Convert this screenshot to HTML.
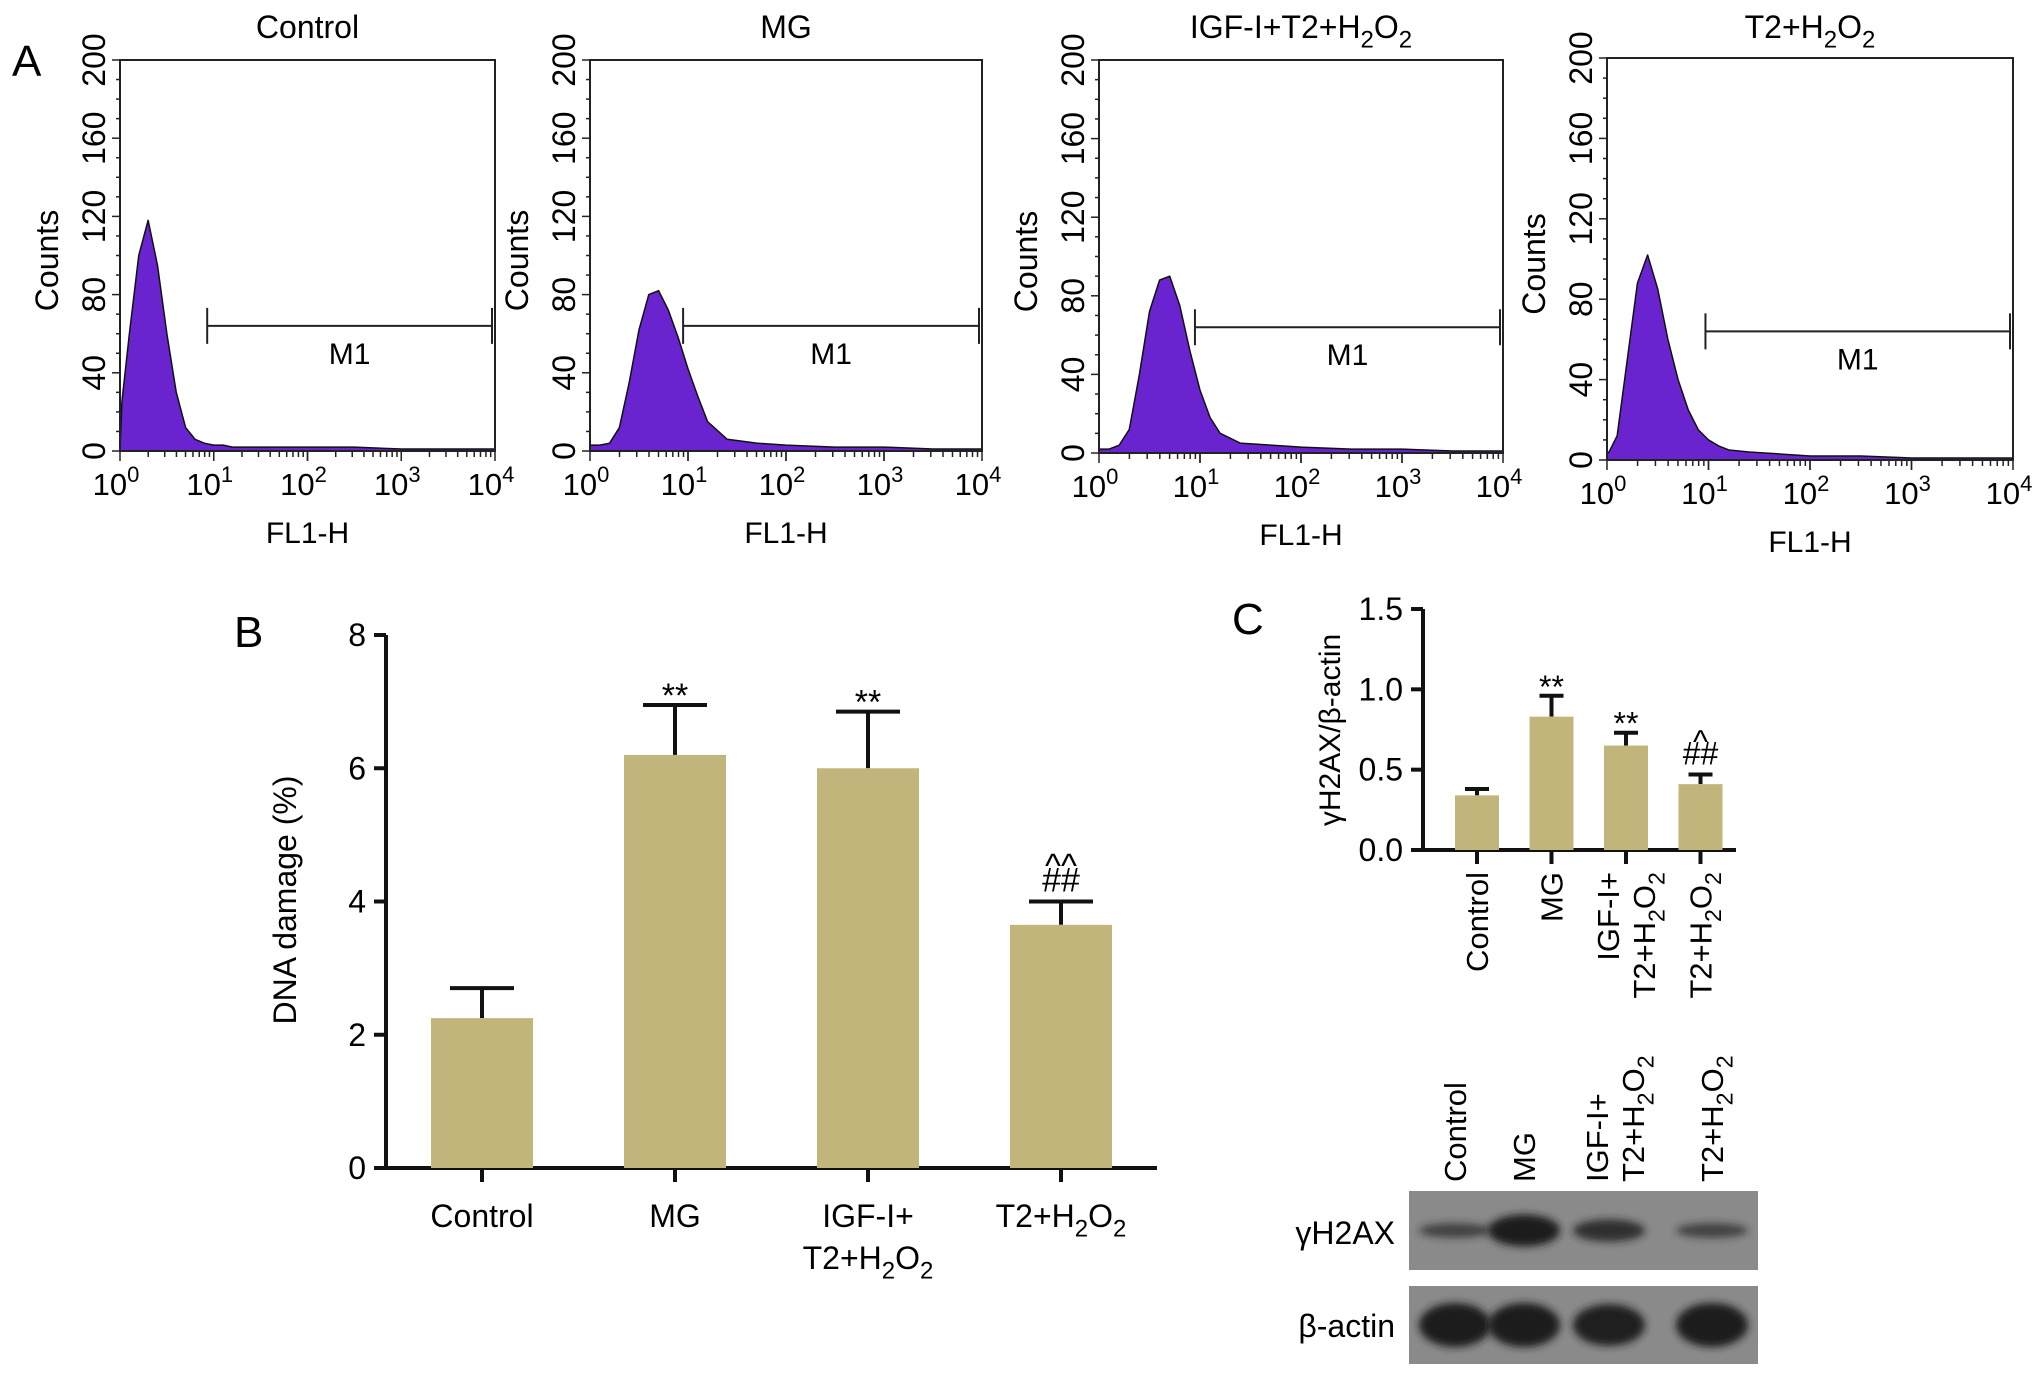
<!DOCTYPE html>
<html><head><meta charset="utf-8"><style>
body{margin:0;background:#fff}
svg{display:block;font-family:"Liberation Sans",Arial,sans-serif}
</style></head><body>
<svg id="fig" width="2032" height="1379" viewBox="0 0 2032 1379" xmlns="http://www.w3.org/2000/svg">
<defs>
<filter id="blur" x="-30%" y="-80%" width="160%" height="260%"><feGaussianBlur stdDeviation="4"/></filter>
</defs>
<g id="A"></g><g id="B"></g><g id="C"></g>
</svg>
<script>
// ---------- Panel A data ----------
const histLog = [0,0.02,0.1,0.2,0.3,0.4,0.5,0.6,0.7,0.8,0.9,1.0,1.1,1.2,1.4,1.7,2,2.5,3,3.5,4];
const histControl = [0,25,60,100,118,95,60,30,12,6,4,3,3,2,2,2,2,2,1,1,1];
const histMG      = [3,3,3,4,12,35,62,80,82,72,58,42,28,15,6,4,3,2,2,1,1];
const histIGF     = [2,2,2,4,12,40,72,88,90,75,52,32,18,10,5,4,3,2,2,1,1];
const histT2      = [3,4,12,50,88,102,85,60,40,25,15,10,7,5,4,3,2,2,1,1,1];
const histTitles = ["Control","MG","IGF-I+T2+H2O2","T2+H2O2"];
const histSeries = [histControl,histMG,histIGF,histT2];
const countTicks = [0,40,80,120,160,200];
const logTicks = [0,1,2,3,4];
const m1Start = [0.93,0.95,0.95,0.97];

// ---------- Panel B data ----------
const bCats = ["Control","MG","IGF-I+\nT2+H2O2","T2+H2O2"];
const bVals = [2.25,6.2,6.0,3.65];
const bErr  = [0.45,0.75,0.85,0.35];
const bTicks = [0,2,4,6,8];
const bMarks = [[],["**"],["**"],["##","^^"]];

// ---------- Panel C data ----------
const cCats = ["Control","MG","IGF-I+\nT2+H2O2","T2+H2O2"];
const cVals = [0.34,0.83,0.65,0.41];
const cErr  = [0.04,0.13,0.08,0.06];
const cTicks = [0.0,0.5,1.0,1.5];
const cMarks = [[],["**"],["**"],["##","^"]];
const blotH2AX = [0.45,1.0,0.7,0.45];
const blotActin = [1,1,0.95,1];

const NS="http://www.w3.org/2000/svg";
function mk(tag,attrs,parent){const e=document.createElementNS(NS,tag);for(const k in attrs)e.setAttribute(k,attrs[k]);parent.appendChild(e);return e;}
function chem(el,s,sz){
  const parts=s.split(/(H2O2)/);
  parts.forEach(p=>{
    if(p==="H2O2"){
      mk('tspan',{},el).textContent="H";
      let t=mk('tspan',{dy:sz*0.3,'font-size':sz*0.75},el);t.textContent="2";
      t=mk('tspan',{dy:-sz*0.3},el);t.textContent="O";
      t=mk('tspan',{dy:sz*0.3,'font-size':sz*0.75},el);t.textContent="2";
      t=mk('tspan',{dy:-sz*0.3},el);t.textContent="\u200b";
    } else if(p){mk('tspan',{},el).textContent=p;}
  });
}

// ---------- Panel A ----------
const A=document.getElementById('A');
let lab=mk('text',{x:12,y:76,'font-size':44},A);lab.textContent="A";


const frames=[{l:120,r:495,t:60,b:451},{l:590,r:982,t:60,b:451},{l:1099,r:1503,t:60,b:453},{l:1607,r:2013,t:58,b:460}];
frames.forEach((f,i)=>{
  const g=mk('g',{},A);
  
  
  const xs=v=>f.l+(f.r-f.l)*v/4;
  const ys=v=>f.b-(f.b-f.t)*v/200;
  const cx=(f.l+f.r)/2;
  const tt=mk('text',{x:cx,y:38,'font-size':32,'text-anchor':'middle'},g);chem(tt,histTitles[i],32);
  
  
  let pts=[[xs(0),ys(0)]];
  histLog.forEach((lx,j)=>pts.push([xs(lx),ys(histSeries[i][j])]));
  pts.push([xs(4),ys(0)]);
  const poly=mk('polygon',{points:pts.map(p=>p.join(',')).join(' '),fill:'#6a24cf',stroke:'#111','stroke-width':1.5,'stroke-linejoin':'round'},g);
  
  
  mk('rect',{x:f.l,y:f.t,width:f.r-f.l,height:f.b-f.t,fill:'none',stroke:'#222','stroke-width':2},g);
  for(let v=0;v<=200;v+=10){const y=ys(v);mk('line',{x1:f.l-(v%40===0?8:4),x2:f.l,y1:y,y2:y,stroke:'#222','stroke-width':1.5},g);}
  countTicks.forEach(v=>{const y=ys(v);const t=mk('text',{x:0,y:0,'font-size':32,'text-anchor':'middle',transform:`translate(${f.l-15},${y}) rotate(-90)`},g);t.textContent=v;});
  const yl=mk('text',{x:0,y:0,'font-size':32,'text-anchor':'middle',transform:`translate(${f.l-62},${(f.t+f.b)/2+5}) rotate(-90)`},g);yl.textContent="Counts";
  
  
  for(let d=0;d<4;d++)for(let k=1;k<=10;k++){const x=xs(d+Math.log10(k));mk('line',{x1:x,x2:x,y1:f.b,y2:f.b+(k===1||k===10?10:6),stroke:'#222','stroke-width':1.5},g);}
  logTicks.forEach(d=>{const t=mk('text',{x:xs(d)-4,y:f.b+44,'font-size':31,'text-anchor':'middle'},g);mk('tspan',{},t).textContent="10";const s=mk('tspan',{dy:-13,'font-size':22},t);s.textContent=d;});
  const xl=mk('text',{x:cx,y:f.b+92,'font-size':30,'text-anchor':'middle'},g);xl.textContent="FL1-H";
  
  
  const my=f.t+(f.b-f.t)*0.68,x1=xs(m1Start[i]),x2=f.r-3;
  const m=mk('g',{},g);
  
  
  mk('line',{x1:x1,x2:x2,y1:my,y2:my,stroke:'#222','stroke-width':2},m);
  mk('line',{x1:x1,x2:x1,y1:my-18,y2:my+18,stroke:'#222','stroke-width':2},m);
  mk('line',{x1:x2,x2:x2,y1:my-18,y2:my+18,stroke:'#222','stroke-width':2},m);
  mk('text',{x:(x1+x2)/2,y:my+38,'font-size':30,'text-anchor':'middle'},m).textContent="M1";
});

function barChart(G,o){
  const ys=v=>o.y0-(o.y0-o.y1)*(v-o.min)/(o.max-o.min);
  mk('line',{x1:o.ax,x2:o.ax,y1:o.y1,y2:o.y0,stroke:'#111','stroke-width':o.lw},G);
  mk('line',{x1:o.ax-o.ext,x2:o.xr,y1:o.y0,y2:o.y0,stroke:'#111','stroke-width':o.lw},G);
  o.ticks.forEach(v=>{const y=ys(v);mk('line',{x1:o.ax-12,x2:o.ax,y1:y,y2:y,stroke:'#111','stroke-width':o.lw},G);
    mk('text',{x:o.ax-20,y:y+11,'font-size':32,'text-anchor':'end'},G).textContent=o.fmt(v);});
  o.vals.forEach((v,i)=>{
    const cx=o.cx0+i*o.step;
    const top=ys(v+o.err[i]);
    mk('line',{x1:cx,x2:cx,y1:ys(v),y2:top,stroke:'#111','stroke-width':o.lw},G);
    mk('line',{x1:cx-o.cap,x2:cx+o.cap,y1:top,y2:top,stroke:'#111','stroke-width':o.lw},G);
    const r=mk('rect',{x:cx-o.bw/2,y:ys(v),width:o.bw,height:o.y0-ys(v),fill:'#c2b57c'},G);
    
    
    mk('line',{x1:cx,x2:cx,y1:o.y0,y2:o.y0+14,stroke:'#111','stroke-width':o.lw},G);
    o.marks[i].forEach((m,k)=>{
      const t=mk('text',{x:cx,y:top-10-k*o.markGap+(m[0]==='^'?16:0)+(m==='**'?12:0),'font-size':o.markSize,'text-anchor':'middle'},G);t.textContent=m;
      
      
    });
  });
  return ys;
}

// ---------- Panel B ----------
const B=document.getElementById('B');
lab=mk('text',{x:234,y:647,'font-size':44},B);lab.textContent="B";


barChart(B,{ax:386,xr:1157,ext:10,y0:1168,y1:635,min:0,max:8,ticks:bTicks,fmt:v=>v,vals:bVals,err:bErr,cx0:482,step:193,bw:102,cap:32,lw:4,marks:bMarks,markGap:30,markSize:34});
bCats.forEach((c,i)=>{
  const cx=482+i*193;
  c.split("\n").forEach((ln,k)=>{const t=mk('text',{x:cx,y:1227+k*42,'font-size':32,'text-anchor':'middle'},B);chem(t,ln,32);
  
  });
});
let yl=mk('text',{x:0,y:0,'font-size':32,'text-anchor':'middle',transform:'translate(296,900) rotate(-90)'},B);yl.textContent="DNA damage (%)";



// ---------- Panel C ----------
const C=document.getElementById('C');
lab=mk('text',{x:1232,y:634,'font-size':44},C);lab.textContent="C";


barChart(C,{ax:1423,xr:1736,ext:8,y0:850,y1:609,min:0,max:1.5,ticks:cTicks,fmt:v=>v.toFixed(1),vals:cVals,err:cErr,cx0:1477,step:74.5,bw:44,cap:12,lw:4,marks:cMarks,markGap:28,markSize:32});
yl=mk('text',{x:0,y:0,'font-size':30,'text-anchor':'middle',transform:'translate(1340,730) rotate(-90)'},C);yl.textContent="\u03b3H2AX/\u03b2-actin";


cCats.forEach((c,i)=>{
  const cx=1477+i*74.5;
  const lines=c.split("\n");
  lines.forEach((ln,k)=>{const off=(k-(lines.length-1)/2)*36;
    const t=mk('text',{x:0,y:0,'font-size':31,'text-anchor':'end',transform:`translate(${cx+11+off},872) rotate(-90)`},C);chem(t,ln,31);
    
    });
});
const laneX=[1455,1524,1615,1712];
cCats.forEach((c,i)=>{
  const lines=c.split("\n");
  lines.forEach((ln,k)=>{const off=(k-(lines.length-1)/2)*36;
    const t=mk('text',{x:0,y:0,'font-size':31,'text-anchor':'start',transform:`translate(${laneX[i]+11+off},1182) rotate(-90)`},C);chem(t,ln,31);
    
    });
});
function blot(y,h,vals,base,name){
  const g=mk('g',{},C);
  
  
  mk('rect',{x:1409,y:y,width:349,height:h,fill:'#8a8a8a'},g);
  vals.forEach((v,i)=>{mk('ellipse',{cx:laneX[i]+(i===2?-6:0),cy:y+h/2,rx:36,ry:base*v,fill:'#1a1a1a',opacity:0.4+0.6*v,filter:'url(#blur)'},g);});
}
blot(1191,79,blotH2AX,16,'gamma-h2ax-blot');
blot(1286,78,blotActin,22,'beta-actin-blot');
let t=mk('text',{x:1395,y:1244,'font-size':32,'text-anchor':'end'},C);t.textContent="\u03b3H2AX";


t=mk('text',{x:1395,y:1337,'font-size':32,'text-anchor':'end'},C);t.textContent="\u03b2-actin";


</script>
</body></html>
